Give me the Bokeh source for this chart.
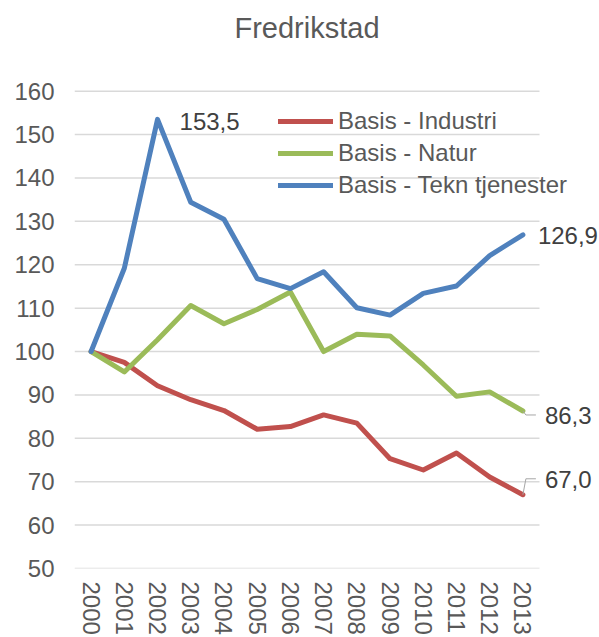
import math
from bokeh.plotting import figure
from bokeh.models import FixedTicker, Legend, LegendItem, ColumnDataSource, Range1d
from bokeh.core.properties import value
from bokeh.embed import file_html
from bokeh.resources import INLINE

# ---------------- data ----------------
title_text = "Fredrikstad"
years = list(range(2000, 2014))
year_labels = [str(y) for y in years]
industri = [100.0, 97.5, 92.1, 88.9, 86.4, 82.1, 82.7, 85.4, 83.5, 75.3, 72.7, 76.6, 71.1, 67.0]
natur = [100.0, 95.3, 102.7, 110.6, 106.4, 109.7, 113.7, 100.0, 104.0, 103.6, 96.9, 89.7, 90.7, 86.3]
tekn = [100.0, 119.2, 153.5, 134.4, 130.5, 116.8, 114.5, 118.4, 110.1, 108.4, 113.4, 115.1, 122.1, 126.9]
series_names = ["Basis - Industri", "Basis - Natur", "Basis - Tekn tjenester"]
y_ticks = list(range(50, 161, 10))

# ---------------- styles / layout ----------------
FONT = "Liberation Sans"
colors = ["#C0504D", "#9BBB59", "#4F81BD"]
GRID = "#D9D9D9"
TXT = "#595959"
LBL = "#404040"

W, H = 599, 637
LEFT, BOTTOM = 74, 67
PLOT_W = 465          # width of the gridded area in px
PLOT_H = 479          # height between lowest and highest tick in px
frame_w = W - LEFT
frame_h = H - BOTTOM
x0 = years[0] - 0.5
x1 = years[-1] + 0.5
px_x = PLOT_W / (x1 - x0)
px_y = PLOT_H / (y_ticks[-1] - y_ticks[0])

p = figure(width=W, height=H, output_backend="svg", toolbar_location=None,
           x_range=Range1d(x0, x0 + frame_w / px_x),
           y_range=Range1d(y_ticks[0], y_ticks[0] + frame_h / px_y),
           min_border_left=LEFT, min_border_right=0, min_border_top=0,
           min_border_bottom=BOTTOM, title=None)
p.outline_line_color = None
p.background_fill_color = "white"
p.border_fill_color = "white"

# axes
p.xaxis.ticker = FixedTicker(ticks=years)
p.xaxis.major_label_overrides = {y: s for y, s in zip(years, year_labels)}
p.xaxis.major_label_orientation = -math.pi / 2
p.yaxis.ticker = FixedTicker(ticks=y_ticks)
for ax in (p.xaxis, p.yaxis):
    ax.axis_line_color = None
    ax.major_tick_line_color = None
    ax.minor_tick_line_color = None
    ax.major_tick_out = 0
    ax.major_tick_in = 0
    ax.major_label_text_font = FONT
    ax.major_label_text_font_size = "24px"
    ax.major_label_text_color = TXT
p.yaxis.major_label_standoff = 20
p.xaxis.major_label_standoff = 13
p.xgrid.grid_line_color = None
p.ygrid.grid_line_color = None

# horizontal gridlines over the category span only
p.segment(x0=[x0] * len(y_ticks), x1=[x1] * len(y_ticks), y0=y_ticks, y1=y_ticks,
          line_color=GRID, line_width=1.5)

# title
p.text(x=[(x0 + x1) / 2], y=[y_ticks[0] + (frame_h - 28) / px_y], text=[title_text],
       text_font=value(FONT), text_font_size="29px", text_color=TXT,
       text_align="center", text_baseline="middle")

# lines
renderers = []
for vals, c in zip([industri, natur, tekn], colors):
    src = ColumnDataSource(dict(x=years, y=vals))
    r = p.line("x", "y", source=src, line_color=c, line_width=5,
               line_join="round", line_cap="round")
    renderers.append(r)

legend = Legend(items=[LegendItem(label=n, renderers=[r]) for n, r in zip(series_names, renderers)],
                location=(204, 367), orientation="vertical",
                glyph_width=55, glyph_height=32, label_height=32, label_standoff=5,
                spacing=0, padding=0, margin=0,
                background_fill_alpha=0, border_line_alpha=0,
                label_text_font=FONT, label_text_font_size="24px",
                label_text_color=TXT)
p.add_layout(legend)

# data labels
def fmt(v):
    return f"{v:.1f}".replace(".", ",")

peak_i = tekn.index(max(tekn))
lab_x = [years[peak_i], years[-1], years[-1], years[-1]]
lab_y = [tekn[peak_i], tekn[-1], natur[-1], industri[-1]]
lab_t = [fmt(v) for v in lab_y]
lab_dx = [22, 15, 22, 22]
lab_dy = [2, 1, 5, -15]
p.text(x=lab_x, y=lab_y, text=lab_t, x_offset=lab_dx, y_offset=lab_dy,
       text_font=value(FONT), text_font_size="24px", text_color=LBL,
       text_baseline="middle", text_align="left")

# leader lines (pixel offsets converted to data units)
x_end = years[-1]
p.line(x=[x_end, x_end + 3 / px_x, x_end + 13 / px_x],
       y=[natur[-1], natur[-1] - 4 / px_y, natur[-1] - 4 / px_y],
       line_color="#A6A6A6", line_width=1)
p.line(x=[x_end, x_end + 3 / px_x, x_end + 13 / px_x],
       y=[industri[-1], industri[-1] + 16 / px_y, industri[-1] + 16 / px_y],
       line_color="#A6A6A6", line_width=1)

open("out.html", "w").write(file_html(p, INLINE))
